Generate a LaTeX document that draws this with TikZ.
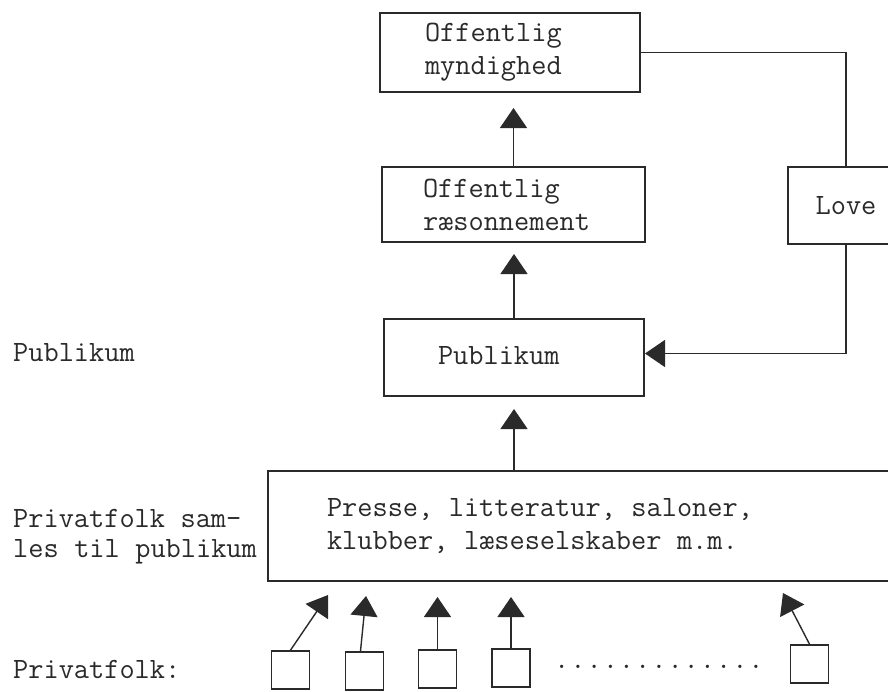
\documentclass[tikz,border=0pt]{standalone}
\usepackage{fontspec}
\usetikzlibrary{arrows.meta}
\definecolor{ink}{HTML}{2A2A2A}
% typewriter text: one character is 15.49pt wide at this size
\newcommand\typefont{\ttfamily\fontsize{29.5}{33}\selectfont}
\newcommand\sidefont{\ttfamily\fontsize{29.5}{30}\selectfont}
\newcommand\gap{\hspace*{15.49pt}}
\newcommand\dotrow{.\kern1pt.\kern1pt.\kern1pt.\kern1pt.\kern1pt.\kern1pt.%
  \kern1pt.\kern1pt.\kern1pt.\kern1pt.\kern1pt.\kern1pt.}
\tikzset{
  box/.style={draw=ink, line width=2pt, text=ink, font=\typefont,
    align=left, inner ysep=0pt},
  sidetext/.style={text=ink, font=\sidefont, align=left, anchor=west, inner sep=0pt},
  link/.style={draw=ink, line width=1.4pt},
  arr/.style={link, -{Triangle[width=27pt,length=20pt,fill=ink]}},
  person/.style={draw=ink, line width=1.7pt, minimum size=38pt, inner sep=0pt},
}
\begin{document}
\begin{tikzpicture}[x=1pt,y=-1pt]
\useasboundingbox (0,0) rectangle (888,691);

% main chain of boxes
\node[box, minimum width=260pt, minimum height=79pt, inner xsep=45pt, text width=170pt]
  (b1) at (510,52.5) {Offentlig\\myndighed};
\node[box, minimum width=263pt, minimum height=75pt, inner xsep=41pt, text width=181pt]
  (b2) at (513.5,204.5) {Offentlig\\ræsonnement};
\node[box, minimum width=260pt, minimum height=77pt, inner xsep=54pt, text width=152pt]
  (b3) at (514,357.5) {\raisebox{4pt}{Publikum}};
\node[box, minimum width=640pt, minimum height=110pt, inner xsep=59pt, text width=522pt]
  (big) at (588,526)
  {Presse,\gap litteratur,\gap saloner,\\klubber,\gap læseselskaber\gap m.m.};
\node[box, align=center, minimum width=116pt, minimum height=77pt]
  (love) at (846,205.5) {\raisebox{-3pt}{Love}};

% side labels
\node[sidetext] (lpub) at (13,353) {Publikum};
\node[sidetext] (lsaml) at (13,537) {Privatfolk\gap sam-\\les\gap til\gap publikum};
\node[sidetext] (lpriv) at (13,669) {Privatfolk:};

% private persons
\node[person] (s1) at (290.5,670) {};
\node[person] (s2) at (364.5,671) {};
\node[person] (s3) at (437.5,669) {};
\node[person] (s4) at (511,668) {};
\node[person] (s5) at (809.5,664) {};
\node[text=ink, font=\typefont, anchor=base west, inner sep=0pt]
  (dots) at (554,668) {\dotrow};

% upward arrows
\draw[arr, shorten >=15pt] (b2.north) -- (b2.north |- b1.south);
\draw[arr, shorten >=11pt] (b3.north) -- (b3.north |- b2.south);
\draw[arr, shorten >=12pt] (b3.south |- big.north) -- (b3.south);

% arrows from the persons into the box above
\coordinate (t1) at (328,595);
\coordinate (t2) at (366,596);
\coordinate (t3) at (437.5,597);
\coordinate (t4) at (511,597);
\coordinate (t5) at (783,593);
\draw[arr] (s1.north) -- (t1);
\draw[arr] ([xshift=-4pt]s2.north) -- (t2);
\draw[arr] (s3.north) -- (t3);
\draw[arr] (s4.north) -- (t4);
\draw[arr] (s5.north) -- (t5);

% feedback through the laws
\coordinate (rail) at (846,52.5);
\draw[link] (b1.east) -- (rail) -- (love.north);
\draw[arr] (love.south) |- ([yshift=4pt]b3.east);
\end{tikzpicture}
\end{document}
